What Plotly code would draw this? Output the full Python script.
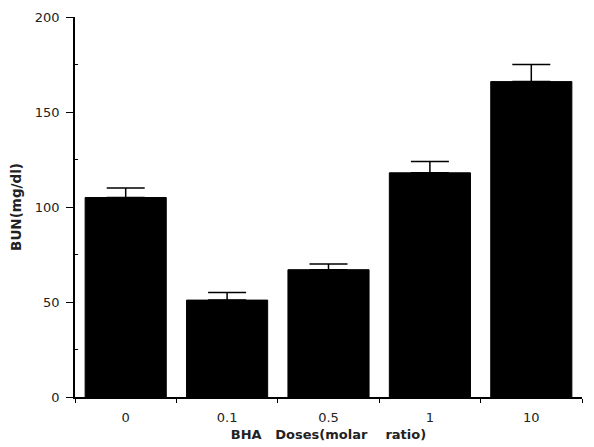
import plotly.graph_objects as go

doses = ["0", "0.1", "0.5", "1", "10"]
bun = [105, 51, 67, 118, 166]
bun_err = [5, 4, 3, 6, 9]
y_ticks = [0, 50, 100, 150, 200]

fig = go.Figure()
fig.add_trace(go.Bar(
    x=doses, y=bun, width=0.8,
    marker=dict(color="black", line=dict(color="black", width=1)),
    error_y=dict(type="data", array=bun_err, symmetric=False,
                 arrayminus=[0]*len(bun_err), color="black", thickness=1.5, width=19),
))

fig.update_layout(
    width=594, height=447,
    margin=dict(l=67, r=20, t=9, b=58),
    paper_bgcolor="white", plot_bgcolor="white",
    showlegend=False,
    font=dict(family="DejaVu Sans, sans-serif", size=13, color="#222"),
    bargap=0.2,
)
fig.update_xaxes(
    automargin=False,
    showline=True, linecolor="black", linewidth=1.5,
    ticks="outside", ticklen=4, tickcolor="black", tickson="boundaries",
    tickfont=dict(size=13), ticklabelstandoff=8,
    title=dict(text="<b>BHA&nbsp;&nbsp;&nbsp;Doses(molar&nbsp;&nbsp;&nbsp;&nbsp;ratio)</b>",
               font=dict(size=13), standoff=6),
    showgrid=False,
)
fig.update_yaxes(
    automargin=False,
    range=[0, 200], tickvals=y_ticks,
    showline=True, linecolor="black", linewidth=1.5,
    ticks="outside", ticklen=7, tickcolor="black", ticklabelstandoff=4,
    minor=dict(tickvals=[25, 75, 125, 175], ticks="inside", ticklen=3, tickcolor="black"),
    tickfont=dict(size=13),
    title=dict(text="<b>BUN(mg/dl)</b>", font=dict(size=13.5), standoff=10),
    showgrid=False, zeroline=False,
)

fig.write_html("out.html")
